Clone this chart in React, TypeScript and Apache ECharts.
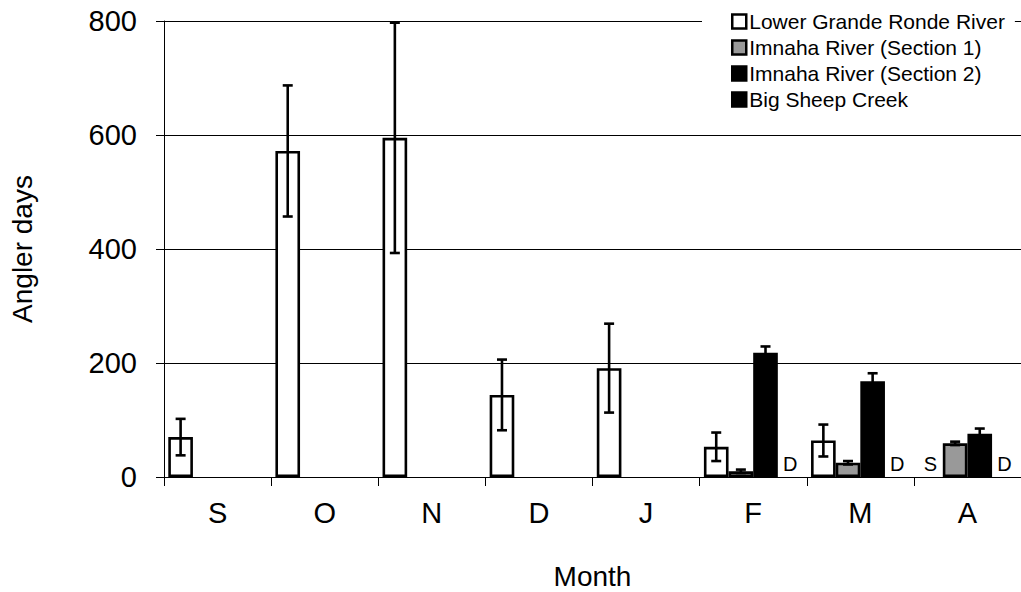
import React, { useEffect, useRef } from "react";
import * as echarts from "echarts";

const months = ["S", "O", "N", "D", "J", "F", "M", "A"];
const seriesNames = [
  "Lower Grande Ronde River",
  "Imnaha River (Section 1)",
  "Imnaha River (Section 2)",
  "Big Sheep Creek",
];
const lowerGrandeRonde = [70, 572, 595, 144, 191, 53, 64, 0];
const lowerGrandeRondeErr = [32, 115, 202, 62, 78, 25, 28, null];
const lowerGrandeRondeNote = ["", "", "", "", "", "", "", "S"];
const imnaha1 = [null, null, null, null, null, 10, 25, 59];
const imnaha1Err = [null, null, null, null, null, 3, 3, 3];
const imnaha2 = [null, null, null, null, null, 218, 168, 76];
const imnaha2Err = [null, null, null, null, null, 11, 14, 9];
const bigSheep = [null, null, null, null, null, 0, 0, 0];
const bigSheepNote = ["", "", "", "", "", "D", "D", "D"];
const yTicks = [0, 200, 400, 600, 800];

const FONT = "Liberation Sans, Arial, sans-serif";
const CAT_GAP = 0.08;

export default function App() {
  const ref = useRef<HTMLDivElement>(null);
  useEffect(() => {
    if (!ref.current) return;
    const chart = echarts.init(ref.current, null, { renderer: "svg" });

    const values = [lowerGrandeRonde, imnaha1, imnaha2, bigSheep];
    const errs = [lowerGrandeRondeErr, imnaha1Err, imnaha2Err, null];
    const notes = [lowerGrandeRondeNote, null, null, bigSheepNote];
    const fills = ["#ffffff", "#999999", "#000000", "#000000"];

    const barSeries = values.map((arr, si) => ({
      name: seriesNames[si],
      type: "bar",
      barGap: "0%",
      barCategoryGap: CAT_GAP * 100 + "%",
      itemStyle: { color: fills[si], borderColor: "#000", borderWidth: 2.6 },
      data: arr.map((v, i) => {
        const note = notes[si] ? notes[si]![i] : "";
        if (note) {
          return {
            value: v,
            itemStyle: { borderWidth: 0 },
            label: {
              show: true,
              position: "top",
              distance: 3,
              formatter: note,
              fontSize: 20,
              fontFamily: FONT,
              color: "#000",
            },
          };
        }
        return v;
      }),
      z: 2,
    }));

    const errData: number[][] = [];
    errs.forEach((e, si) => {
      if (!e) return;
      e.forEach((ev, i) => {
        const v = values[si][i];
        if (ev != null && v != null) errData.push([i, v as number, ev as number, si]);
      });
    });

    const errSeries = {
      type: "custom",
      name: "err",
      z: 5,
      silent: true,
      encode: { x: 0, y: 1 },
      data: errData,
      renderItem: (params: any, api: any) => {
        const cat = api.value(0);
        const val = api.value(1);
        const err = api.value(2);
        const s = api.value(3);
        const catW = api.size([1, 0])[0];
        const bw = (catW * (1 - CAT_GAP)) / 4;
        const x = api.coord([cat, 0])[0] + (s - 1.5) * bw;
        const top = api.coord([cat, val + err])[1];
        const bot = api.coord([cat, val - err])[1];
        const cap = 5;
        const st = { stroke: "#000", lineWidth: 2.6 };
        return {
          type: "group",
          children: [
            { type: "line", shape: { x1: x, y1: top, x2: x, y2: bot }, style: st },
            { type: "line", shape: { x1: x - cap, y1: top, x2: x + cap, y2: top }, style: st },
            { type: "line", shape: { x1: x - cap, y1: bot, x2: x + cap, y2: bot }, style: st },
          ],
        };
      },
    };

    chart.setOption({
      animation: false,
      backgroundColor: "#fff",
      textStyle: { fontFamily: FONT },
      grid: { left: 164, right: 0, top: 21, bottom: 115, outerBoundsMode: "none", containLabel: false },
      legend: {
        data: seriesNames.map((n) => ({ name: n, icon: "rect" })),
        orient: "vertical",
        left: 702,
        top: 5,
        padding: [6, 10, 6, 29],
        backgroundColor: "#fff",
        itemWidth: 14,
        itemHeight: 14,
        itemGap: 5,
        itemStyle: { borderColor: "#000", borderWidth: 2.5 },
        textStyle: { fontSize: 21, fontFamily: FONT, color: "#000", padding: [0, 0, 0, -2] },
        selectedMode: false,
        z: 10,
      },
      xAxis: {
        type: "category",
        data: months,
        name: "Month",
        nameLocation: "middle",
        nameGap: 85,
        nameTextStyle: { fontSize: 28, color: "#000", fontFamily: FONT },
        axisLine: { lineStyle: { color: "#000", width: 1 } },
        axisTick: { show: true, length: 9, lineStyle: { color: "#000" }, alignWithLabel: false },
        axisLabel: { fontSize: 29, color: "#000", margin: 21, fontFamily: FONT },
      },
      yAxis: {
        type: "value",
        min: yTicks[0],
        max: yTicks[yTicks.length - 1],
        interval: 200,
        name: "Angler days",
        nameLocation: "middle",
        nameGap: 128,
        nameTextStyle: { fontSize: 28, color: "#000", fontFamily: FONT },
        axisLine: { show: true, lineStyle: { color: "#000", width: 1 } },
        axisTick: { show: true, length: 8, lineStyle: { color: "#000" } },
        axisLabel: { fontSize: 29, color: "#000", margin: 27, fontFamily: FONT },
        splitLine: { show: true, lineStyle: { color: "#000", width: 1 } },
      },
      series: [...barSeries, errSeries],
    });
    return () => chart.dispose();
  }, []);
  return (
    <div
      ref={ref}
      style={{ position: "fixed", left: 0, top: 0, width: 1021, height: 592, background: "#fff" }}
    />
  );
}
